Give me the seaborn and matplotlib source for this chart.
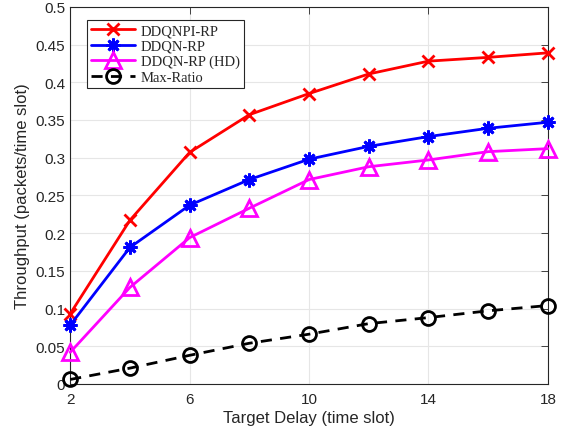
import numpy as np
import pandas as pd
import matplotlib
matplotlib.use('Agg')
import matplotlib.pyplot as plt
import seaborn as sns

delay = [2, 4, 6, 8, 10, 12, 14, 16, 18]
ddqnpi_rp = [0.093, 0.217, 0.307, 0.357, 0.385, 0.411, 0.428, 0.433, 0.439]
ddqn_rp = [0.078, 0.181, 0.237, 0.271, 0.298, 0.315, 0.328, 0.339, 0.347]
ddqn_rp_hd = [0.042, 0.128, 0.194, 0.233, 0.271, 0.288, 0.297, 0.308, 0.312]
max_ratio = [0.006, 0.021, 0.038, 0.054, 0.066, 0.080, 0.088, 0.097, 0.104]

names = ['DDQNPI-RP', 'DDQN-RP', 'DDQN-RP (HD)', 'Max-Ratio']
series = [ddqnpi_rp, ddqn_rp, ddqn_rp_hd, max_ratio]
colors = ['#ff0000', '#0000ff', '#ff00ff', '#000000']
markers = ['x', (8, 2, 0), '^', 'o']
msizes = [8, 10, 11, 10]
dashes = ['-', '-', '-', (0, (4, 3))]

df = pd.concat([pd.DataFrame({'delay': delay, 'thr': s, 'algo': n})
                for n, s in zip(names, series)], ignore_index=True)

sns.set_style('white')
plt.rcParams['font.family'] = ['Liberation Sans', 'DejaVu Sans']

fig = plt.figure(figsize=(5.66, 4.35), dpi=100)
ax = fig.add_axes([0.124, 0.115, 0.844, 0.867])

for n, c, m, ms, ls in zip(names, colors, markers, msizes, dashes):
    sub = df[df['algo'] == n]
    sns.lineplot(data=sub, x='delay', y='thr', ax=ax, color=c, linewidth=2,
                 linestyle=ls, marker=m, markersize=ms, markeredgewidth=2,
                 markerfacecolor='none', markeredgecolor=c, label=n,
                 clip_on=False, zorder=3)

ax.set_xlim(2, 18)
ax.set_ylim(0, 0.5)
ax.set_xticks([2, 6, 10, 14, 18])
yt = np.arange(0, 0.501, 0.05)
ax.set_yticks(yt)
ax.set_yticklabels(['0'] + [f'{v:g}' for v in yt[1:]])
ax.grid(True, color='#e6e6e6', linewidth=0.8)
ax.set_axisbelow(True)
ax.tick_params(direction='in', top=True, right=True, length=5, width=0.6,
               labelsize=11, colors='#262626')
ax.tick_params(axis='x', pad=6)
for sp in ax.spines.values():
    sp.set_color('#262626')
    sp.set_linewidth(0.8)
ax.set_xlabel('Target Delay (time slot)', fontsize=12, color='#262626', labelpad=3)
ax.set_ylabel('Throughput (packets/time slot)', fontsize=12, color='#262626')

leg = ax.legend(loc='upper left', bbox_to_anchor=(0.02, 0.985),
                prop={'family': 'Liberation Serif', 'size': 10.5},
                handlelength=3.0, borderpad=0.3, labelspacing=0.15,
                handletextpad=0.4, fancybox=False, framealpha=1,
                edgecolor='#262626')
leg.get_frame().set_linewidth(0.8)

fig.savefig('out.png', dpi=100)
